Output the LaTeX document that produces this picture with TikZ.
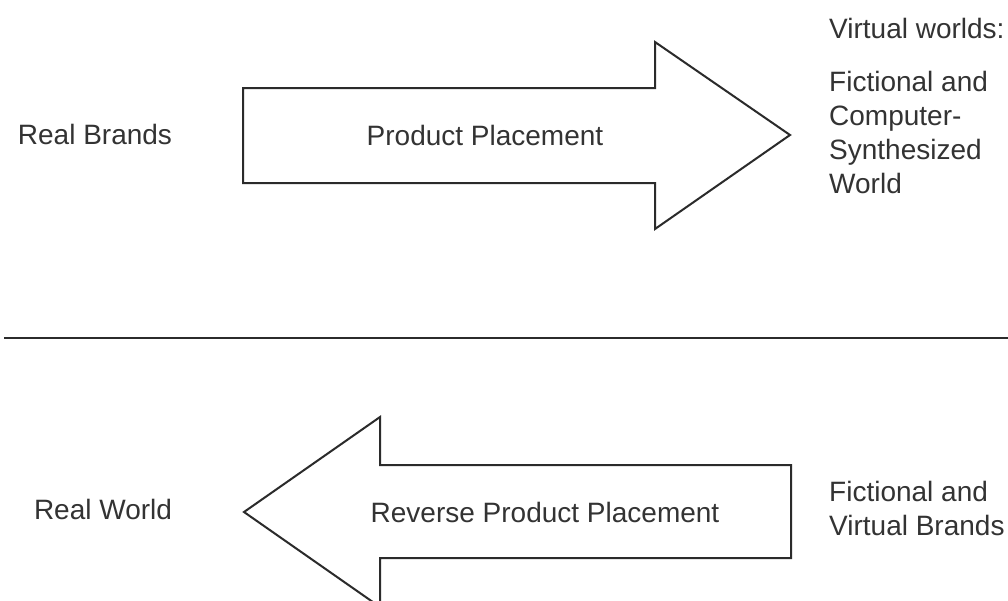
\documentclass[tikz,border=0pt]{standalone}
\usepackage{fontspec}
\setmainfont{Liberation Sans}
\definecolor{ink}{HTML}{2B2B2B}
\definecolor{txt}{HTML}{333333}
\begin{document}
\begin{tikzpicture}[x=1pt,y=-1pt,
  bigarrow/.style={draw=ink,line width=2pt,line join=miter,fill=white},
  label/.style={text=txt,inner sep=0pt,font=\fontsize{28}{34}\selectfont},
  block/.style={label,align=left,anchor=base west},
  divider/.style={draw=ink,line width=2pt}]
\useasboundingbox (0,0) rectangle (1008,600);
\fill[white] (0,0) rectangle (1008,600);

% upper arrow, pointing right
\coordinate (ua) at (243,88);
\coordinate (ub) at (655,88);
\coordinate (uc) at (655,42);
\coordinate (utip) at (790,135);
\coordinate (ud) at (655,229);
\coordinate (ue) at (655,183);
\coordinate (uf) at (243,183);
\path[bigarrow] (ua) -- (ub) -- (uc) -- (utip) -- (ud) -- (ue) -- (uf) -- cycle;

% lower arrow, pointing left (its lower barb runs past the edge)
\coordinate (la) at (791,465);
\coordinate (lb) at (380,465);
\coordinate (lc) at (380,417);
\coordinate (ltip) at (244,512);
\coordinate (ld) at (380,607);
\coordinate (le) at (380,558);
\coordinate (lf) at (791,558);
\path[bigarrow] (la) -- (lb) -- (lc) -- (ltip) -- (ld) -- (le) -- (lf) -- cycle;

% separator
\coordinate (sl) at (4,338);
\coordinate (sr) at (1008,338);
\path[divider] (sl) -- (sr);

% labels (multi-line blocks are placed by the baseline of their last line)
\node[label,anchor=base] (realbrands) at (95,144) {Real Brands};
\node[label,anchor=base] (pp) at (485,145) {Product Placement};
\node[block] (vw) at (829,38) {Virtual worlds:};
\node[block] (fcs) at (829,193) {Fictional and\\Computer-\\Synthesized\\World};

\node[label,anchor=base] (realworld) at (103,519) {Real World};
\node[label,anchor=base] (rpp) at (545,522) {Reverse Product Placement};
\node[block] (fvb) at (829,535) {Fictional and\\Virtual Brands};
\end{tikzpicture}
\end{document}
